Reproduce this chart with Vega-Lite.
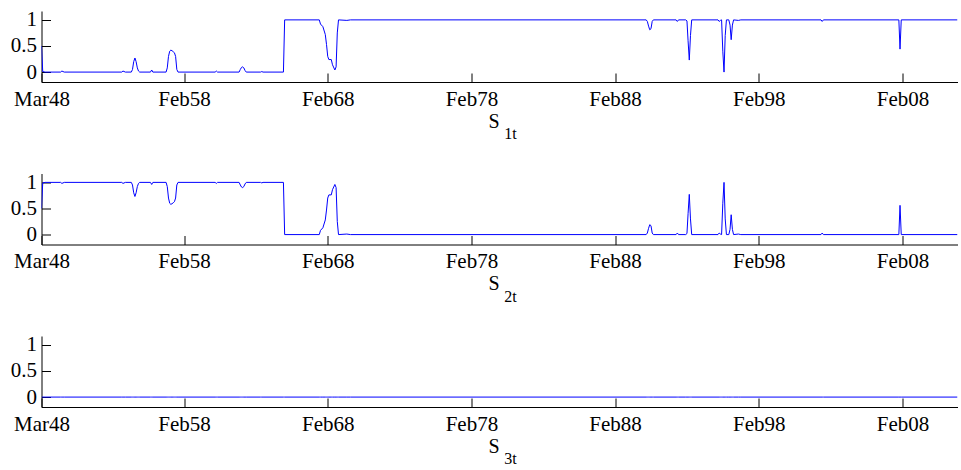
{
  "$schema": "https://vega.github.io/schema/vega-lite/v6.json",
  "background": "white",
  "padding": {"left": 9.5, "top": 8, "right": 1, "bottom": 5},
  "spacing": 28.5,
  "config": {
    "view": {"stroke": null},
    "font": "Liberation Serif",
    "axis": {
      "labelFont": "Liberation Serif",
      "labelFontSize": 21,
      "labelColor": "black",
      "domainColor": "black",
      "domainWidth": 1,
      "tickColor": "black",
      "tickSize": -9,
      "tickWidth": 1,
      "grid": false,
      "title": null
    }
  },
  "data": {
    "values": [
      {"date": "1948-03-01", "s1": 0.5, "s2": 0.5, "s3": 0},
      {"date": "1948-04-01", "s1": 0.01, "s2": 0.99, "s3": 0},
      {"date": "1948-06-01", "s1": 0.0, "s2": 1.0, "s3": 0},
      {"date": "1949-07-01", "s1": 0.0, "s2": 1.0, "s3": 0},
      {"date": "1949-08-01", "s1": 0.02, "s2": 0.98, "s3": 0},
      {"date": "1949-10-01", "s1": 0.0, "s2": 1.0, "s3": 0},
      {"date": "1953-10-01", "s1": 0.0, "s2": 1.0, "s3": 0},
      {"date": "1953-11-01", "s1": 0.02, "s2": 0.98, "s3": 0},
      {"date": "1954-01-01", "s1": 0.0, "s2": 1.0, "s3": 0},
      {"date": "1954-06-01", "s1": 0.0, "s2": 1.0, "s3": 0},
      {"date": "1954-07-01", "s1": 0.05, "s2": 0.95, "s3": 0},
      {"date": "1954-08-01", "s1": 0.2, "s2": 0.8, "s3": 0},
      {"date": "1954-09-01", "s1": 0.27, "s2": 0.73, "s3": 0},
      {"date": "1954-10-01", "s1": 0.2, "s2": 0.8, "s3": 0},
      {"date": "1954-11-01", "s1": 0.08, "s2": 0.92, "s3": 0},
      {"date": "1954-12-01", "s1": 0.02, "s2": 0.98, "s3": 0},
      {"date": "1955-01-01", "s1": 0.0, "s2": 1.0, "s3": 0},
      {"date": "1955-10-01", "s1": 0.0, "s2": 1.0, "s3": 0},
      {"date": "1955-11-01", "s1": 0.04, "s2": 0.96, "s3": 0},
      {"date": "1955-12-01", "s1": 0.0, "s2": 1.0, "s3": 0},
      {"date": "1956-11-01", "s1": 0.0, "s2": 1.0, "s3": 0},
      {"date": "1956-12-01", "s1": 0.08, "s2": 0.92, "s3": 0},
      {"date": "1957-01-01", "s1": 0.3, "s2": 0.7, "s3": 0},
      {"date": "1957-02-01", "s1": 0.4, "s2": 0.6, "s3": 0},
      {"date": "1957-03-01", "s1": 0.42, "s2": 0.58, "s3": 0},
      {"date": "1957-04-01", "s1": 0.41, "s2": 0.59, "s3": 0},
      {"date": "1957-05-01", "s1": 0.39, "s2": 0.61, "s3": 0},
      {"date": "1957-06-01", "s1": 0.37, "s2": 0.63, "s3": 0},
      {"date": "1957-07-01", "s1": 0.3, "s2": 0.7, "s3": 0},
      {"date": "1957-08-01", "s1": 0.05, "s2": 0.95, "s3": 0},
      {"date": "1957-09-01", "s1": 0.0, "s2": 1.0, "s3": 0},
      {"date": "1960-04-01", "s1": 0.0, "s2": 1.0, "s3": 0},
      {"date": "1960-05-01", "s1": 0.02, "s2": 0.98, "s3": 0},
      {"date": "1960-06-01", "s1": 0.0, "s2": 1.0, "s3": 0},
      {"date": "1961-12-01", "s1": 0.0, "s2": 1.0, "s3": 0},
      {"date": "1962-01-01", "s1": 0.05, "s2": 0.95, "s3": 0},
      {"date": "1962-02-01", "s1": 0.09, "s2": 0.91, "s3": 0},
      {"date": "1962-03-01", "s1": 0.1, "s2": 0.9, "s3": 0},
      {"date": "1962-04-01", "s1": 0.08, "s2": 0.92, "s3": 0},
      {"date": "1962-05-01", "s1": 0.03, "s2": 0.97, "s3": 0},
      {"date": "1962-06-01", "s1": 0.0, "s2": 1.0, "s3": 0},
      {"date": "1963-06-01", "s1": 0.0, "s2": 1.0, "s3": 0},
      {"date": "1963-07-01", "s1": 0.01, "s2": 0.99, "s3": 0},
      {"date": "1963-08-01", "s1": 0.0, "s2": 1.0, "s3": 0},
      {"date": "1965-01-01", "s1": 0.0, "s2": 1.0, "s3": 0},
      {"date": "1965-02-01", "s1": 1.0, "s2": 0.0, "s3": 0},
      {"date": "1967-07-01", "s1": 1.0, "s2": 0.0, "s3": 0},
      {"date": "1967-08-01", "s1": 0.92, "s2": 0.08, "s3": 0},
      {"date": "1967-10-01", "s1": 0.87, "s2": 0.13, "s3": 0},
      {"date": "1967-12-01", "s1": 0.72, "s2": 0.28, "s3": 0},
      {"date": "1968-01-01", "s1": 0.53, "s2": 0.47, "s3": 0},
      {"date": "1968-02-01", "s1": 0.3, "s2": 0.7, "s3": 0},
      {"date": "1968-03-01", "s1": 0.24, "s2": 0.76, "s3": 0},
      {"date": "1968-05-01", "s1": 0.24, "s2": 0.76, "s3": 0},
      {"date": "1968-06-01", "s1": 0.14, "s2": 0.86, "s3": 0},
      {"date": "1968-08-01", "s1": 0.04, "s2": 0.96, "s3": 0},
      {"date": "1968-09-01", "s1": 0.1, "s2": 0.9, "s3": 0},
      {"date": "1968-10-01", "s1": 0.75, "s2": 0.25, "s3": 0},
      {"date": "1968-11-01", "s1": 1.0, "s2": 0.0, "s3": 0},
      {"date": "1969-06-01", "s1": 0.99, "s2": 0.01, "s3": 0},
      {"date": "1969-09-01", "s1": 1.0, "s2": 0.0, "s3": 0},
      {"date": "1990-04-01", "s1": 1.0, "s2": 0.0, "s3": 0},
      {"date": "1990-05-01", "s1": 0.97, "s2": 0.03, "s3": 0},
      {"date": "1990-06-01", "s1": 0.88, "s2": 0.12, "s3": 0},
      {"date": "1990-07-01", "s1": 0.81, "s2": 0.19, "s3": 0},
      {"date": "1990-08-01", "s1": 0.83, "s2": 0.17, "s3": 0},
      {"date": "1990-09-01", "s1": 0.97, "s2": 0.03, "s3": 0},
      {"date": "1990-10-01", "s1": 1.0, "s2": 0.0, "s3": 0},
      {"date": "1992-05-01", "s1": 1.0, "s2": 0.0, "s3": 0},
      {"date": "1992-06-01", "s1": 0.97, "s2": 0.03, "s3": 0},
      {"date": "1992-07-01", "s1": 1.0, "s2": 0.0, "s3": 0},
      {"date": "1993-01-01", "s1": 1.0, "s2": 0.0, "s3": 0},
      {"date": "1993-02-01", "s1": 0.98, "s2": 0.02, "s3": 0},
      {"date": "1993-03-01", "s1": 0.6, "s2": 0.4, "s3": 0},
      {"date": "1993-04-01", "s1": 0.23, "s2": 0.77, "s3": 0},
      {"date": "1993-05-01", "s1": 0.7, "s2": 0.3, "s3": 0},
      {"date": "1993-06-01", "s1": 1.0, "s2": 0.0, "s3": 0},
      {"date": "1995-04-01", "s1": 1.0, "s2": 0.0, "s3": 0},
      {"date": "1995-05-01", "s1": 0.97, "s2": 0.03, "s3": 0},
      {"date": "1995-06-01", "s1": 0.99, "s2": 0.01, "s3": 0},
      {"date": "1995-07-01", "s1": 1.0, "s2": 0.0, "s3": 0},
      {"date": "1995-08-01", "s1": 0.4, "s2": 0.6, "s3": 0},
      {"date": "1995-09-01", "s1": 0.0, "s2": 1.0, "s3": 0},
      {"date": "1995-10-01", "s1": 0.7, "s2": 0.3, "s3": 0},
      {"date": "1995-11-01", "s1": 1.0, "s2": 0.0, "s3": 0},
      {"date": "1996-01-01", "s1": 1.0, "s2": 0.0, "s3": 0},
      {"date": "1996-02-01", "s1": 0.9, "s2": 0.1, "s3": 0},
      {"date": "1996-03-01", "s1": 0.62, "s2": 0.38, "s3": 0},
      {"date": "1996-04-01", "s1": 0.9, "s2": 0.1, "s3": 0},
      {"date": "1996-05-01", "s1": 1.0, "s2": 0.0, "s3": 0},
      {"date": "1996-09-01", "s1": 0.99, "s2": 0.01, "s3": 0},
      {"date": "1996-11-01", "s1": 1.0, "s2": 0.0, "s3": 0},
      {"date": "2002-06-01", "s1": 1.0, "s2": 0.0, "s3": 0},
      {"date": "2002-07-01", "s1": 0.97, "s2": 0.03, "s3": 0},
      {"date": "2002-08-01", "s1": 1.0, "s2": 0.0, "s3": 0},
      {"date": "2007-11-01", "s1": 1.0, "s2": 0.0, "s3": 0},
      {"date": "2007-12-01", "s1": 0.44, "s2": 0.56, "s3": 0},
      {"date": "2008-01-01", "s1": 1.0, "s2": 0.0, "s3": 0},
      {"date": "2011-12-01", "s1": 1.0, "s2": 0.0, "s3": 0}
    ]
  },
  "vconcat": [
    {
      "width": 916,
      "height": 71,
      "title": {"text": "1t", "orient": "bottom", "anchor": "middle", "frame": "group", "dx": 11, "offset": -5, "font": "Liberation Serif", "fontSize": 16, "fontWeight": "normal", "color": "black"},
      "mark": {"type": "line", "color": "#0000ff", "strokeWidth": 1, "clip": true},
      "encoding": {
        "x": {
          "field": "date", "type": "temporal",
          "scale": {"type": "utc", "domain": [{"year": 1948, "month": 3, "date": 1, "utc": true}, {"year": 2011, "month": 12, "date": 1, "utc": true}]},
          "axis": {
            "values": [
              {"year": 1948, "month": 3, "date": 1, "utc": true},
              {"year": 1958, "month": 2, "date": 1, "utc": true},
              {"year": 1968, "month": 2, "date": 1, "utc": true},
              {"year": 1978, "month": 2, "date": 1, "utc": true},
              {"year": 1988, "month": 2, "date": 1, "utc": true},
              {"year": 1998, "month": 2, "date": 1, "utc": true},
              {"year": 2008, "month": 2, "date": 1, "utc": true}
            ],
            "labelExpr": "utcFormat(datum.value, '%b%y')", "labelFont": "Liberation Serif", "labelPadding": 15, "labelFlush": false, "labelOverlap": false,
            "title": "S", "titleFont": "Liberation Serif", "titleFontSize": 20, "titleFontWeight": "normal", "titleColor": "black", "titlePadding": 2, "titleX": 452
          }
        },
        "y": {
          "field": "s1", "type": "quantitative",
          "scale": {"domain": [-0.19, 1.17], "nice": false, "zero": false},
          "axis": {"values": [0, 0.5, 1], "format": "~g", "labelFont": "Liberation Serif", "labelPadding": 14}
        }
      }
    },
    {
      "width": 916,
      "height": 71,
      "title": {"text": "2t", "orient": "bottom", "anchor": "middle", "frame": "group", "dx": 11, "offset": -5, "font": "Liberation Serif", "fontSize": 16, "fontWeight": "normal", "color": "black"},
      "mark": {"type": "line", "color": "#0000ff", "strokeWidth": 1, "clip": true},
      "encoding": {
        "x": {
          "field": "date", "type": "temporal",
          "scale": {"type": "utc", "domain": [{"year": 1948, "month": 3, "date": 1, "utc": true}, {"year": 2011, "month": 12, "date": 1, "utc": true}]},
          "axis": {
            "values": [
              {"year": 1948, "month": 3, "date": 1, "utc": true},
              {"year": 1958, "month": 2, "date": 1, "utc": true},
              {"year": 1968, "month": 2, "date": 1, "utc": true},
              {"year": 1978, "month": 2, "date": 1, "utc": true},
              {"year": 1988, "month": 2, "date": 1, "utc": true},
              {"year": 1998, "month": 2, "date": 1, "utc": true},
              {"year": 2008, "month": 2, "date": 1, "utc": true}
            ],
            "labelExpr": "utcFormat(datum.value, '%b%y')", "labelFont": "Liberation Serif", "labelPadding": 15, "labelFlush": false, "labelOverlap": false,
            "title": "S", "titleFont": "Liberation Serif", "titleFontSize": 20, "titleFontWeight": "normal", "titleColor": "black", "titlePadding": 2, "titleX": 452
          }
        },
        "y": {
          "field": "s2", "type": "quantitative",
          "scale": {"domain": [-0.19, 1.17], "nice": false, "zero": false},
          "axis": {"values": [0, 0.5, 1], "format": "~g", "labelFont": "Liberation Serif", "labelPadding": 14}
        }
      }
    },
    {
      "width": 916,
      "height": 71,
      "title": {"text": "3t", "orient": "bottom", "anchor": "middle", "frame": "group", "dx": 11, "offset": -5, "font": "Liberation Serif", "fontSize": 16, "fontWeight": "normal", "color": "black"},
      "mark": {"type": "line", "color": "#0000ff", "strokeWidth": 1, "clip": true},
      "encoding": {
        "x": {
          "field": "date", "type": "temporal",
          "scale": {"type": "utc", "domain": [{"year": 1948, "month": 3, "date": 1, "utc": true}, {"year": 2011, "month": 12, "date": 1, "utc": true}]},
          "axis": {
            "values": [
              {"year": 1948, "month": 3, "date": 1, "utc": true},
              {"year": 1958, "month": 2, "date": 1, "utc": true},
              {"year": 1968, "month": 2, "date": 1, "utc": true},
              {"year": 1978, "month": 2, "date": 1, "utc": true},
              {"year": 1988, "month": 2, "date": 1, "utc": true},
              {"year": 1998, "month": 2, "date": 1, "utc": true},
              {"year": 2008, "month": 2, "date": 1, "utc": true}
            ],
            "labelExpr": "utcFormat(datum.value, '%b%y')", "labelFont": "Liberation Serif", "labelPadding": 15, "labelFlush": false, "labelOverlap": false,
            "title": "S", "titleFont": "Liberation Serif", "titleFontSize": 20, "titleFontWeight": "normal", "titleColor": "black", "titlePadding": 2, "titleX": 452
          }
        },
        "y": {
          "field": "s3", "type": "quantitative",
          "scale": {"domain": [-0.19, 1.17], "nice": false, "zero": false},
          "axis": {"values": [0, 0.5, 1], "format": "~g", "labelFont": "Liberation Serif", "labelPadding": 14}
        }
      }
    }
  ]
}
